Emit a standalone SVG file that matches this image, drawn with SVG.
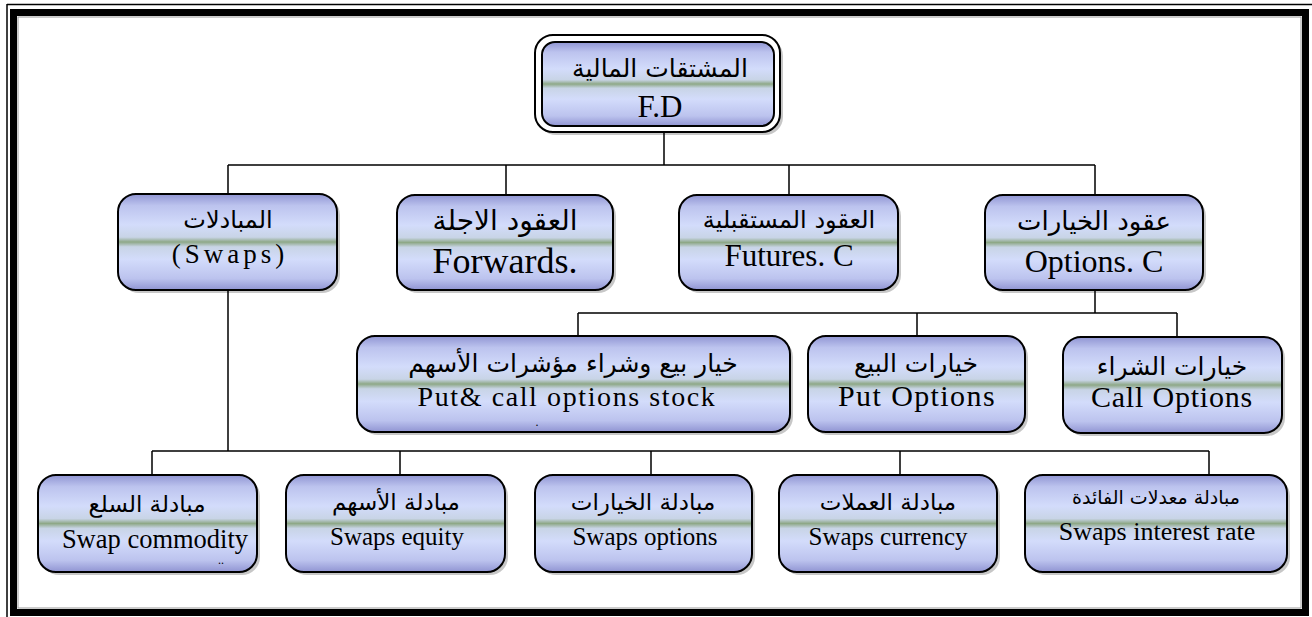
<svg xmlns="http://www.w3.org/2000/svg" width="1312" height="617" viewBox="0 0 1312 617">
<defs>
<linearGradient id="g" x1="0" y1="0" x2="0" y2="1">
<stop offset="0" stop-color="#9095d3"/>
<stop offset="0.12" stop-color="#bcc3ee"/>
<stop offset="0.32" stop-color="#d3dcfb"/>
<stop offset="0.45" stop-color="#c8d4e6"/>
<stop offset="0.5" stop-color="#8ea887"/>
<stop offset="0.55" stop-color="#c8d4e6"/>
<stop offset="0.68" stop-color="#d3dcfb"/>
<stop offset="0.88" stop-color="#bcc3ee"/>
<stop offset="1" stop-color="#9094d2"/>
</linearGradient>
<style>
.box{fill:url(#g);stroke:#000;stroke-width:2}
.sh{fill:#000;opacity:0.22}
.ar{font-family:"DejaVu Sans",sans-serif;text-anchor:middle;fill:#000}
.en{font-family:"Liberation Serif","Times New Roman",serif;text-anchor:middle;fill:#000}
.c{stroke:#000;stroke-width:1.5;fill:none}
</style>
</defs>
<rect width="1312" height="617" fill="#fff"/>
<g id="frame">
<line x1="7" y1="4" x2="7" y2="617" stroke="#000" stroke-width="1.5"/>
<line x1="7" y1="4.5" x2="1312" y2="4.5" stroke="#000" stroke-width="1.5"/>
<rect x="13.5" y="12.5" width="1292" height="600" fill="none" stroke="#000" stroke-width="7"/>
<rect x="18" y="17" width="1283" height="591" fill="none" stroke="#999" stroke-width="1"/>
</g>
<g id="connectors" class="c">
<path d="M664 132V165M228 165H1095M228 165V195M506 165V195M789 165V195M1095 165V195"/>
<path d="M1095 290V313M578 313H1177M578 313V336M917 313V336M1177 313V336"/>
<path d="M228 290V451M152 451H1209M152 451V475M400 451V475M651 451V475M900 451V475M1209 451V475"/>
</g>
<g id="root">
<rect x="538" y="38" width="245" height="97" rx="18" class="sh"/>
<rect x="535" y="35" width="245" height="97" rx="18" fill="#fff" stroke="#000" stroke-width="2"/>
<rect x="542" y="42" width="232" height="84" rx="13" class="box" stroke-width="2.5"/>
<text x="660" y="77" class="ar" font-size="25">المشتقات المالية</text>
<text x="660" y="117" class="en" font-size="31">F.D</text>
</g>
<g id="swaps">
<rect x="121" y="197" width="219" height="96" rx="18" class="sh"/>
<rect x="118" y="194" width="219" height="96" rx="18" class="box"/>
<text x="228" y="228" class="ar" font-size="24">المبادلات</text>
<text x="230" y="263" class="en" font-size="27" letter-spacing="4">(Swaps)</text>
</g>
<g id="forwards">
<rect x="400" y="198" width="216" height="95" rx="18" class="sh"/>
<rect x="397" y="195" width="216" height="95" rx="18" class="box"/>
<text x="505" y="230" class="ar" font-size="28">العقود الاجلة</text>
<text x="505" y="273" class="en" font-size="36">Forwards.</text>
</g>
<g id="futures">
<rect x="682" y="198" width="219" height="95" rx="18" class="sh"/>
<rect x="679" y="195" width="219" height="95" rx="18" class="box"/>
<text x="789" y="228" class="ar" font-size="24">العقود المستقبلية</text>
<text x="789" y="266" class="en" font-size="31">Futures. C</text>
</g>
<g id="options">
<rect x="988" y="198" width="218" height="95" rx="18" class="sh"/>
<rect x="985" y="195" width="218" height="95" rx="18" class="box"/>
<text x="1094" y="230" class="ar" font-size="26">عقود الخيارات</text>
<text x="1094" y="272" class="en" font-size="32">Options. C</text>
</g>
<g id="putcall">
<rect x="360" y="339" width="433" height="96" rx="18" class="sh"/>
<rect x="357" y="336" width="433" height="96" rx="18" class="box"/>
<text x="573" y="372" class="ar" font-size="25">خيار بيع وشراء مؤشرات الأسهم</text>
<text x="567" y="406" class="en" font-size="28" letter-spacing="1.6">Put&amp; call options stock</text>
<text x="537" y="426" class="en" font-size="12">.</text>
</g>
<g id="put">
<rect x="811" y="339" width="217" height="96" rx="18" class="sh"/>
<rect x="808" y="336" width="217" height="96" rx="18" class="box"/>
<text x="916" y="372" class="ar" font-size="25">خيارات البيع</text>
<text x="917" y="406" class="en" font-size="30" letter-spacing="1.4">Put Options</text>
</g>
<g id="call">
<rect x="1066" y="340" width="219" height="96" rx="18" class="sh"/>
<rect x="1063" y="337" width="219" height="96" rx="18" class="box"/>
<text x="1172" y="375" class="ar" font-size="25">خيارات الشراء</text>
<text x="1172" y="407" class="en" font-size="30" letter-spacing="0.8">Call Options</text>
</g>
<g id="commodity">
<rect x="41" y="478" width="219" height="97" rx="18" class="sh"/>
<rect x="38" y="475" width="219" height="97" rx="18" class="box"/>
<text x="147" y="512" class="ar" font-size="23">مبادلة السلع</text>
<text x="155" y="548" class="en" font-size="26.5">Swap commodity</text>
<text x="221" y="564" class="en" font-size="12">..</text>
</g>
<g id="equity">
<rect x="289" y="478" width="219" height="97" rx="18" class="sh"/>
<rect x="286" y="475" width="219" height="97" rx="18" class="box"/>
<text x="396" y="510" class="ar" font-size="23">مبادلة الأسهم</text>
<text x="397" y="545" class="en" font-size="25">Swaps equity</text>
</g>
<g id="swopt">
<rect x="538" y="478" width="217" height="97" rx="18" class="sh"/>
<rect x="535" y="475" width="217" height="97" rx="18" class="box"/>
<text x="643" y="510" class="ar" font-size="23">مبادلة الخيارات</text>
<text x="645" y="545" class="en" font-size="25">Swaps options</text>
</g>
<g id="currency">
<rect x="782" y="478" width="218" height="97" rx="18" class="sh"/>
<rect x="779" y="475" width="218" height="97" rx="18" class="box"/>
<text x="888" y="510" class="ar" font-size="23">مبادلة العملات</text>
<text x="888" y="545" class="en" font-size="25">Swaps currency</text>
</g>
<g id="interest">
<rect x="1028" y="478" width="262" height="97" rx="18" class="sh"/>
<rect x="1025" y="475" width="262" height="97" rx="18" class="box"/>
<text x="1156" y="504" class="ar" font-size="19">مبادلة معدلات الفائدة</text>
<text x="1157" y="540" class="en" font-size="26">Swaps interest rate</text>
</g>
</svg>
